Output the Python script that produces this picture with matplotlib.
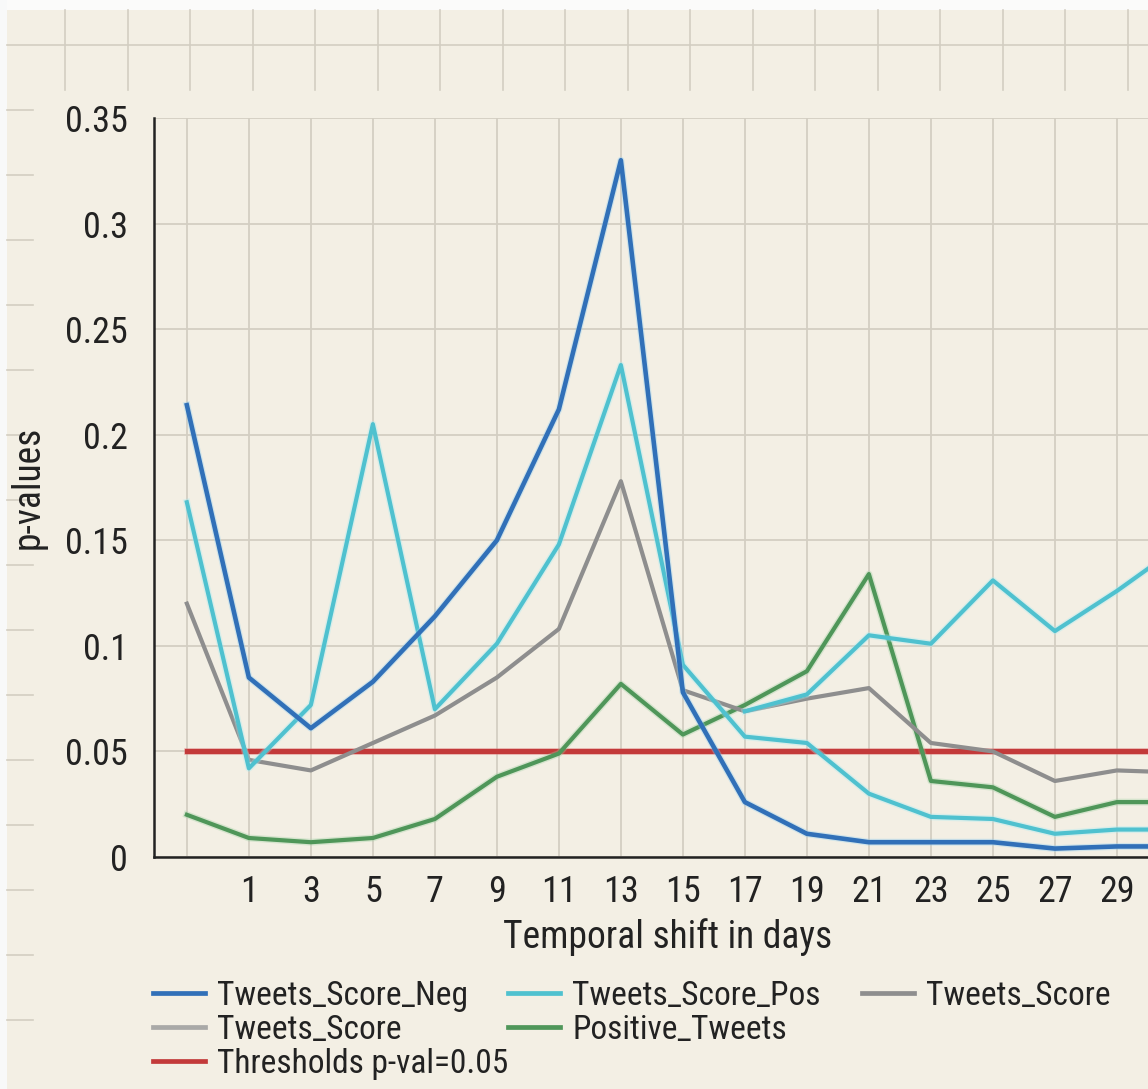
import numpy as np
import matplotlib
matplotlib.use("Agg")
import matplotlib.pyplot as plt
from matplotlib.lines import Line2D
from matplotlib.patches import Rectangle
import matplotlib.patheffects as pe

plt.rcParams['font.family'] = ['Roboto Condensed', 'Liberation Sans Narrow', 'Roboto', 'DejaVu Sans']

# Temporal shift (days) and p-values of each series
shift_days = [-1, 1, 3, 5, 7, 9, 11, 13, 15, 17, 19, 21, 23, 25, 27, 29, 31]
tweets_score_neg = [0.214, 0.085, 0.061, 0.083, 0.114, 0.150, 0.212, 0.330, 0.078,
                    0.026, 0.011, 0.007, 0.007, 0.007, 0.004, 0.005, 0.005]
tweets_score_pos = [0.168, 0.042, 0.072, 0.205, 0.070, 0.101, 0.148, 0.233, 0.091,
                    0.057, 0.054, 0.030, 0.019, 0.018, 0.011, 0.013, 0.013]
tweets_score_pos_upper = [np.nan, np.nan, np.nan, np.nan, np.nan, np.nan, np.nan, np.nan, np.nan,
                          0.069, 0.077, 0.105, 0.101, 0.131, 0.107, 0.126, 0.147]
tweets_score = [0.120, 0.046, 0.041, 0.054, 0.067, 0.085, 0.108, 0.178, 0.079,
                0.069, 0.075, 0.080, 0.054, 0.050, 0.036, 0.041, 0.040]
positive_tweets = [0.020, 0.009, 0.007, 0.009, 0.018, 0.038, 0.049, 0.082, 0.058,
                   0.072, 0.088, 0.134, 0.036, 0.033, 0.019, 0.026, 0.026]
threshold = [0.05] * len(shift_days)

xtick_values = [1, 3, 5, 7, 9, 11, 13, 15, 17, 19, 21, 23, 25, 27, 29]
ytick_values = [0, 0.05, 0.1, 0.15, 0.2, 0.25, 0.3, 0.35]
ytick_labels = ["0", "0.05", "0.1", "0.15", "0.2", "0.25", "0.3", "0.35"]

C_NEG = "#3170b8"
C_POS = "#4fc1cf"
C_SCORE = "#8e8e8e"
C_SCORE2 = "#a9a9a7"
C_POSITIVE = "#4f9659"
C_RED = "#c33a3a"
BG = "#f3efe4"
GRID = "#d3cec2"
INK = "#222222"

W, H = 1148, 1089
fig = plt.figure(figsize=(W / 100, H / 100), dpi=100, facecolor=BG)


def fx(px):
    return px / W


def fy(py):
    return 1 - py / H


# paper-like background decoration around the plot
fig.add_artist(Rectangle((0, fy(10)), 1, 10 / H, transform=fig.transFigure,
                         facecolor="#fbfbfa", edgecolor="none", zorder=0))
fig.add_artist(Rectangle((0, 0), fx(7), 1, transform=fig.transFigure,
                         facecolor="#f8f9f9", edgecolor="none", zorder=0))
xx = 65.0
while xx < W:
    fig.add_artist(Line2D([fx(xx), fx(xx)], [fy(10), fy(90)], transform=fig.transFigure,
                          color=GRID, lw=1.2, zorder=0))
    xx += 62.5
fig.add_artist(Line2D([fx(7), 1], [fy(45), fy(45)], transform=fig.transFigure,
                      color=GRID, lw=1.2, zorder=0))
yy = 110.0
while yy < 1030:
    fig.add_artist(Line2D([fx(7), fx(33)], [fy(yy), fy(yy)], transform=fig.transFigure,
                          color=GRID, lw=1.2, zorder=0))
    yy += 65

ax = fig.add_axes([fx(154), fy(857), (1182 - 154) / W, (857 - 118) / H])
ax.set_facecolor(BG)
ax.set_xlim(-2.06, 31.1)
ax.set_ylim(0, 0.35)

ax.set_xticks([-1] + xtick_values)
ax.set_xticklabels([""] + [str(v) for v in xtick_values])
ax.set_yticks(ytick_values)
ax.set_yticklabels(ytick_labels)
ax.tick_params(axis="both", length=0, labelsize=26, colors=INK)
ax.tick_params(axis="x", pad=12)
ax.tick_params(axis="y", pad=19)
ax.grid(True, color=GRID, lw=1.3)
ax.set_axisbelow(True)

for side in ("top", "right"):
    ax.spines[side].set_visible(False)
for side in ("left", "bottom"):
    ax.spines[side].set_color(INK)
    ax.spines[side].set_linewidth(1.8)

glow = lambda c: [pe.Stroke(linewidth=5.0, foreground=c, alpha=0.35), pe.Normal()]

ax.plot(shift_days, threshold, color=C_RED, lw=3.8, zorder=3,
        path_effects=glow("#e88a8a"), label="Thresholds p-val=0.05")
l_green, = ax.plot(shift_days, positive_tweets, color=C_POSITIVE, lw=3.0, zorder=4,
                   path_effects=glow("#9fd1a4"), label="Positive_Tweets")
l_gray, = ax.plot(shift_days, tweets_score, color=C_SCORE, lw=3.0, zorder=4,
                  label="Tweets_Score")
ax.plot(shift_days, tweets_score_pos_upper, color=C_POS, lw=3.0, zorder=4,
        path_effects=glow("#a8ecf4"))
l_pos, = ax.plot(shift_days, tweets_score_pos, color=C_POS, lw=3.0, zorder=5,
                 path_effects=glow("#a8ecf4"), label="Tweets_Score_Pos")
l_neg, = ax.plot(shift_days, tweets_score_neg, color=C_NEG, lw=3.3, zorder=6,
                 path_effects=glow("#8fd0f5"), label="Tweets_Score_Neg")
l_red = ax.lines[0]

ax.set_xlabel("Temporal shift in days", fontsize=27, color=INK)
ax.set_ylabel("p-values", fontsize=27, color=INK)
axw = (1182 - 154) / W
ax.xaxis.set_label_coords(fx(668 - 154) / axw, -0.083)
ax.yaxis.set_label_coords(-fx(154 - 47) / axw, 0.5)

score2_handle = Line2D([], [], color=C_SCORE2, lw=3.0)

legend_kw = dict(frameon=False, loc="upper left", fontsize=24, handlelength=1.55,
                 handletextpad=0.38, labelspacing=0.06, borderpad=0, borderaxespad=0)
for handles, labels, xpx in (
        ([l_neg, score2_handle, l_red], ["Tweets_Score_Neg", "Tweets_Score", "Thresholds p-val=0.05"], 153),
        ([l_pos, l_green], ["Tweets_Score_Pos", "Positive_Tweets"], 508),
        ([l_gray], ["Tweets_Score"], 862)):
    leg = fig.legend(handles, labels, bbox_to_anchor=(fx(xpx), fy(980)), **legend_kw)
    for t in leg.get_texts():
        t.set_color(INK)
    for h in leg.legend_handles:
        h.set_linewidth(3.4)
        h.set_path_effects([])

fig.savefig("out.png", dpi=100, facecolor=BG)
